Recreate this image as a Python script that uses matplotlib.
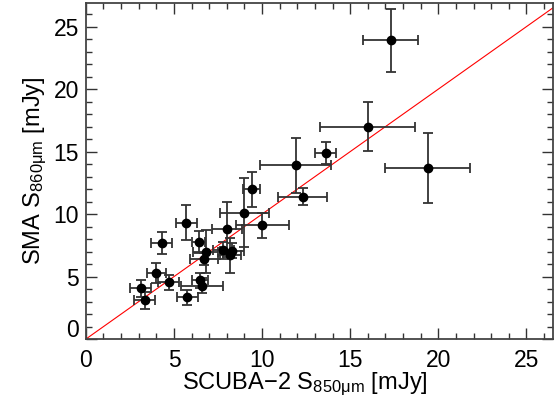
import numpy
import matplotlib
matplotlib.use("Agg")
import matplotlib.pyplot as plt
from matplotlib.ticker import MultipleLocator, FuncFormatter

plt.rcParams['font.family'] = ['Liberation Sans', 'DejaVu Sans']
plt.rcParams['mathtext.fontset'] = 'custom'
plt.rcParams['mathtext.rm'] = 'Liberation Sans'
plt.rcParams['mathtext.it'] = 'Liberation Sans'

# SCUBA-2 850um vs SMA 860um fluxes (mJy)
s850 = [17.3, 16.0, 19.4, 13.6, 11.9, 12.3, 10.0, 9.4, 9.0, 8.0,
        5.7, 4.3, 6.4, 6.8, 6.7, 7.8, 8.3, 8.2, 4.0, 4.7,
        3.1, 3.35, 5.75, 6.5, 6.6]
s850err = [1.55, 2.7, 2.4, 0.6, 2.0, 1.4, 1.5, 0.5, 1.4, 0.85,
           0.6, 0.6, 0.35, 0.7, 0.8, 0.6, 0.7, 0.6, 0.55, 0.6,
           0.6, 0.6, 0.6, 0.45, 1.2]
s860 = [23.9, 17.0, 13.7, 14.9, 13.9, 11.4, 9.1, 12.0, 10.1, 8.8,
        9.3, 7.7, 7.75, 7.0, 6.4, 7.1, 7.05, 6.7, 5.3, 4.55,
        4.05, 3.1, 3.35, 4.7, 4.25]
s860err = [2.5, 1.95, 2.8, 0.9, 2.2, 0.7, 1.0, 1.4, 2.75, 2.2,
           1.4, 0.9, 0.9, 1.75, 0.5, 0.7, 0.6, 1.4, 0.8, 0.6,
           0.7, 0.7, 0.6, 0.6, 0.6]

fig = plt.figure(figsize=(5.54, 4.11), dpi=100)
ax = fig.add_axes([0.155, 0.175, 0.843, 0.818])

ax.plot([0, 30], [0, 30], color='red', lw=0.8, zorder=1)
ax.errorbar(s850, s860, xerr=s850err, yerr=s860err, fmt='o', color='black',
            ecolor='#333333', elinewidth=1.3, capsize=3.5, capthick=1.3,
            markersize=6, zorder=2)

ax.set_xlim(0, 26.5)
ax.set_ylim(0, 26.9)
ax.xaxis.set_major_locator(MultipleLocator(5))
ax.yaxis.set_major_locator(MultipleLocator(5))
ax.xaxis.set_minor_locator(MultipleLocator(1))
ax.yaxis.set_minor_locator(MultipleLocator(1))
# the y=0 label is drawn by hand a little higher
ax.yaxis.set_major_formatter(FuncFormatter(lambda v, p: '' if v == 0 else '%d' % v))
ax.tick_params(which='both', direction='in', top=True, right=True,
               labelsize=16.5, color='#333333')
ax.tick_params(which='major', length=8, width=1)
ax.tick_params(which='minor', length=4, width=1)
ax.tick_params(axis='x', pad=7)
ax.tick_params(axis='y', pad=5)
for sp in ax.spines.values():
    sp.set_linewidth(1.3)
    sp.set_color('#444444')

ax.annotate('0', xy=(0, 0), xycoords='axes fraction', xytext=(-5, 6),
            textcoords='offset points', ha='right', va='center', fontsize=16.5)

ax.set_xlabel(r'SCUBA$-$2 S$_{\mathregular{850\mu m}}$ [mJy]', fontsize=17, labelpad=0)
ax.xaxis.set_label_coords(0.469, -0.095)
ax.set_ylabel(r'SMA S$_{\mathregular{860\mu m}}$ [mJy]', fontsize=17, labelpad=3)

plt.savefig("out.png", dpi=100)
